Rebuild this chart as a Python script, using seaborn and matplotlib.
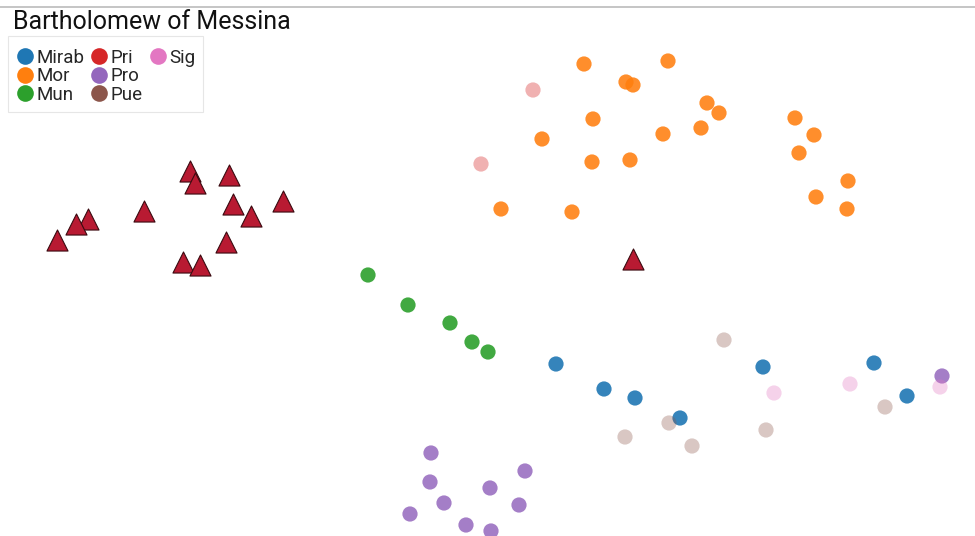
import matplotlib
matplotlib.use("Agg")
import matplotlib.pyplot as plt
from matplotlib.lines import Line2D
import seaborn as sns
import pandas as pd

sns.set_theme(style="white")
plt.rcParams['font.family'] = ['Roboto', 'DejaVu Sans']

title = "Bartholomew of Messina"
categories = ["Mirab", "Mor", "Mun", "Pri", "Pro", "Pue", "Sig"]
colors = ["#1f77b4", "#ff7f0e", "#2ca02c", "#d62728", "#9467bd", "#8c564b", "#e377c2"]

mirab_x = [556, 604, 635, 680, 763, 874, 907]
mirab_y = [364, 389, 398, 418, 367, 363, 396]
mor_x = [584, 668, 626, 633, 707, 719, 593, 542, 663, 701, 795, 814, 799, 592, 630, 848, 816, 847, 501, 572]
mor_y = [64, 61, 82, 85, 103, 113, 119, 139, 134, 128, 118, 135, 153, 162, 160, 181, 197, 209, 209, 212]
mun_x = [368, 408, 450, 472, 488]
mun_y = [275, 305, 323, 342, 352]
pri_x = [533, 481]
pri_y = [90, 164]
pro_x = [942, 431, 525, 430, 490, 444, 519, 410, 466, 491]
pro_y = [376, 453, 471, 482, 488, 503, 505, 514, 525, 531]
pue_x = [724, 625, 669, 692, 766, 885]
pue_y = [340, 437, 423, 446, 430, 407]
sig_x = [774, 850, 940]
sig_y = [393, 384, 387]
# highlighted (Bartholomew of Messina) points
hl_x = [190, 229, 195, 144, 88, 76, 233, 283, 251, 57, 226, 183, 200, 633]
hl_y = [171, 175, 183, 211, 219, 224, 204, 201, 216, 240, 242, 262, 265, 259]

series = {
    "Mirab": (mirab_x, mirab_y, 0.9),
    "Mor": (mor_x, mor_y, 0.88),
    "Mun": (mun_x, mun_y, 0.9),
    "Pri": (pri_x, pri_y, 0.36),
    "Pro": (pro_x, pro_y, 0.85),
    "Pue": (pue_x, pue_y, 0.33),
    "Sig": (sig_x, sig_y, 0.33),
}

fig = plt.figure(figsize=(9.75, 5.36), dpi=100)
ax = fig.add_axes([0, 0, 1, 1])

for cat, col in zip(categories, colors):
    xs, ys, a = series[cat]
    df = pd.DataFrame({"x": xs, "y": ys})
    sns.scatterplot(data=df, x="x", y="y", ax=ax, color=col, alpha=a, s=120,
                    edgecolor="none", linewidth=0, legend=False)

dfh = pd.DataFrame({"x": hl_x, "y": hl_y})
sns.scatterplot(data=dfh, x="x", y="y", ax=ax, color="#b81a32", marker="^", s=230,
                edgecolor="#3a0a10", linewidth=0.8, legend=False, zorder=5)

ax.set_xlim(0, 975)
ax.set_ylim(536, 0)
ax.set_axis_off()

# top rule
ax.plot([0, 975], [7, 7], color="#bbbbbb", linewidth=1.2, clip_on=False)

fig.text(13 / 975, 1 - 22 / 536, title, fontsize=18, va="center", ha="left", color="#111111")

handles = [Line2D([0], [0], marker="o", linestyle="", markersize=12,
                  markerfacecolor=c, markeredgecolor="none") for c in colors]
labels = list(categories)
# pad so the columns fill 3,3,1 like the reference
blank = Line2D([0], [0], linestyle="", marker="")
handles += [blank, blank]
labels += ["", ""]
leg = fig.legend(handles, labels, ncol=3, loc="upper left",
                 bbox_to_anchor=(8 / 975, 1 - 36 / 536), borderaxespad=0,
                 fontsize=13.5, frameon=True, handletextpad=0.15,
                 columnspacing=0.35, labelspacing=0.02, borderpad=0.45,
                 handlelength=0.9, fancybox=False,
                 title=" ", title_fontsize=3)
leg.get_frame().set_edgecolor("#e0e0e0")
leg.get_frame().set_linewidth(0.8)

fig.savefig("out.png", dpi=100)
